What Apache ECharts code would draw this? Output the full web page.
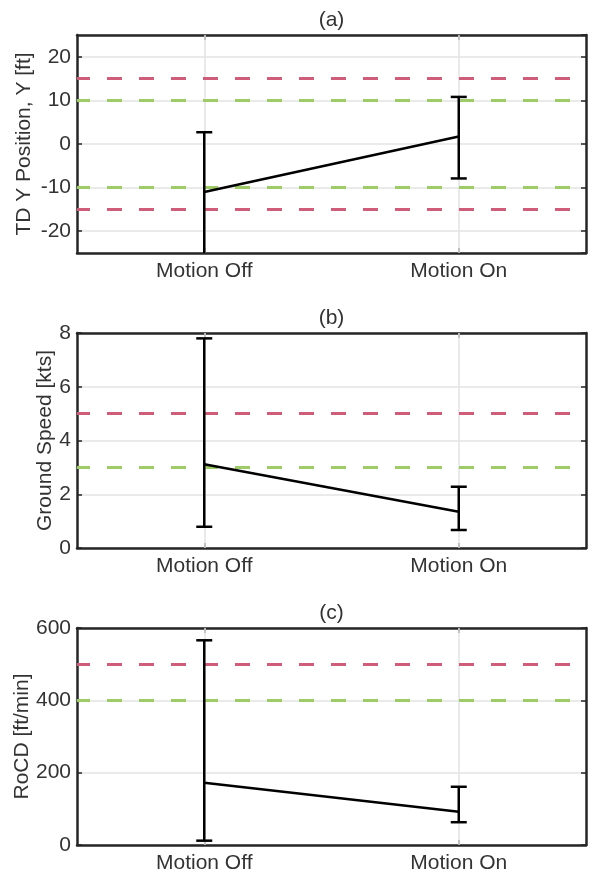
<!DOCTYPE html>
<html>
<head>
<meta charset="utf-8">
<script src="https://cdn.jsdelivr.net/npm/echarts@6/dist/echarts.min.js"></script>
<style>html,body{margin:0;padding:0;background:#fff;}#c{width:593px;height:876px;}</style>
</head>
<body>
<div id="c"></div>
<script>
// ---- data ----
const categories = ['Motion Off', 'Motion On'];
const titles = ['(a)', '(b)', '(c)'];
const yNames = ['TD Y Position, Y [ft]', 'Ground Speed [kts]', 'RoCD [ft/min]'];

const posMean = [-11, 1.7];
const posLow = [-28, -7.9];
const posHigh = [2.7, 10.8];

const speedMean = [3.12, 1.35];
const speedLow = [0.79, 0.67];
const speedHigh = [7.8, 2.28];

const rocdMean = [172, 92];
const rocdLow = [12, 63];
const rocdHigh = [566, 161];

const posRed = [15, -15];
const posGreen = [10, -10];
const speedRed = [5];
const speedGreen = [3];
const rocdRed = [500];
const rocdGreen = [400];

const yMin = [-25, 0, 0];
const yMax = [25, 8, 600];
const ySplit = [5, 4, 3];

// ---- layout / style ----
const FONT = "'Liberation Sans', Arial, Helvetica, sans-serif";
const FS = 21;
const TXT = '#333';
const AX = '#262626';
const RED = '#cf5d79';
const GREEN = '#9ecb66';
const GRIDC = '#e3e3e3';
const grids = [
  { left: 77, width: 509, top: 35, height: 218, outerBoundsMode: 'none', containLabel: false },
  { left: 77, width: 509, top: 333, height: 215, outerBoundsMode: 'none', containLabel: false },
  { left: 77, width: 509, top: 628, height: 217, outerBoundsMode: 'none', containLabel: false }
];
const nameGaps = [42, 21, 44];

const panels = [
  { mean: posMean, low: posLow, high: posHigh, red: posRed, green: posGreen },
  { mean: speedMean, low: speedLow, high: speedHigh, red: speedRed, green: speedGreen },
  { mean: rocdMean, low: rocdLow, high: rocdHigh, red: rocdRed, green: rocdGreen }
];

const xAxes = [], yAxes = [], series = [];
const axisLine = { show: true, onZero: false, lineStyle: { color: AX, width: 2.5 } };

panels.forEach((p, i) => {
  xAxes.push({
    type: 'category', data: categories, gridIndex: i, position: 'bottom',
    boundaryGap: true,
    axisLine: axisLine,
    axisTick: { show: true, inside: true, alignWithLabel: true, length: 5, lineStyle: { color: AX, width: 1.5 } },
    axisLabel: { color: TXT, fontSize: FS, fontFamily: FONT, margin: 8 },
    splitLine: { show: false }
  });
  xAxes.push({
    type: 'category', data: categories, gridIndex: i, position: 'top',
    boundaryGap: true,
    axisLine: axisLine,
    axisTick: { show: true, inside: true, alignWithLabel: true, length: 5, lineStyle: { color: AX, width: 1.5 } },
    axisLabel: { show: false },
    splitLine: { show: false },
    name: titles[i], nameLocation: 'middle', nameGap: 4, nameMoveOverlap: false,
    nameTextStyle: { color: TXT, fontSize: FS, fontFamily: FONT }
  });
  yAxes.push({
    type: 'value', gridIndex: i, position: 'left', min: yMin[i], max: yMax[i], splitNumber: ySplit[i],
    axisLine: axisLine,
    axisTick: { show: true, inside: true, length: 5, lineStyle: { color: AX, width: 1.5 } },
    axisLabel: { color: TXT, fontSize: FS, fontFamily: FONT, margin: 6, showMinLabel: i !== 0, showMaxLabel: i !== 0 },
    splitLine: { show: true, lineStyle: { color: GRIDC, width: 1.5 } },
    name: yNames[i], nameLocation: 'middle', nameRotate: 90, nameGap: nameGaps[i], nameMoveOverlap: false,
    nameTextStyle: { color: TXT, fontSize: FS, fontFamily: FONT }
  });
  yAxes.push({
    type: 'value', gridIndex: i, position: 'right', min: yMin[i], max: yMax[i], splitNumber: ySplit[i],
    axisLine: axisLine,
    axisTick: { show: true, inside: true, length: 5, lineStyle: { color: AX, width: 1.5 } },
    axisLabel: { show: false },
    splitLine: { show: false }
  });

  const xi = i * 2, yi = i * 2;

  series.push({
    type: 'line', xAxisIndex: xi, yAxisIndex: yi, data: [], z: 1, silent: true,
    markLine: {
      z: 1, silent: true, symbol: 'none', label: { show: false },
      lineStyle: { color: GRIDC, width: 1.5, type: 'solid' },
      data: categories.map(c => ({ xAxis: c }))
    }
  });
  const refs = [];
  p.red.forEach(v => refs.push({ yAxis: v, lineStyle: { color: RED } }));
  p.green.forEach(v => refs.push({ yAxis: v, lineStyle: { color: GREEN } }));
  series.push({
    type: 'line', xAxisIndex: xi, yAxisIndex: yi, data: [], z: 2, silent: true,
    markLine: {
      z: 2, silent: true, symbol: 'none', label: { show: false },
      lineStyle: { width: 3, type: [15, 17], dashOffset: 2 },
      emphasis: { disabled: true },
      data: refs
    }
  });
  series.push({
    type: 'line', xAxisIndex: xi, yAxisIndex: yi, z: 3, silent: true,
    data: p.mean, showSymbol: false, symbol: 'none',
    lineStyle: { color: '#000', width: 2.5 }
  });
  series.push({
    type: 'custom', xAxisIndex: xi, yAxisIndex: yi, z: 4, silent: true,
    data: categories.map((c, k) => [k, p.low[k], p.high[k]]),
    encode: { x: 0, y: [1, 2] },
    renderItem: function (params, api) {
      const cs = params.coordSys;
      const x = api.value(0);
      const lo = api.coord([x, api.value(1)]);
      const hi = api.coord([x, api.value(2)]);
      const bottom = cs.y + cs.height, top = cs.y;
      const hw = 8;
      const mk = () => ({ stroke: '#000', lineWidth: 2.5, fill: null });
      const yl = Math.min(lo[1], bottom), yh = Math.max(hi[1], top);
      const ch = [{ type: 'line', shape: { x1: lo[0], y1: yl, x2: hi[0], y2: yh }, style: mk() }];
      if (lo[1] <= bottom) ch.push({ type: 'line', shape: { x1: lo[0] - hw, y1: lo[1], x2: lo[0] + hw, y2: lo[1] }, style: mk() });
      if (hi[1] >= top) ch.push({ type: 'line', shape: { x1: hi[0] - hw, y1: hi[1], x2: hi[0] + hw, y2: hi[1] }, style: mk() });
      return { type: 'group', children: ch };
    }
  });
});

const chart = echarts.init(document.getElementById('c'), null, { renderer: 'canvas' });
chart.setOption({
  animation: false,
  backgroundColor: '#fff',
  grid: grids,
  xAxis: xAxes,
  yAxis: yAxes,
  series: series
});
</script>
</body>
</html>
